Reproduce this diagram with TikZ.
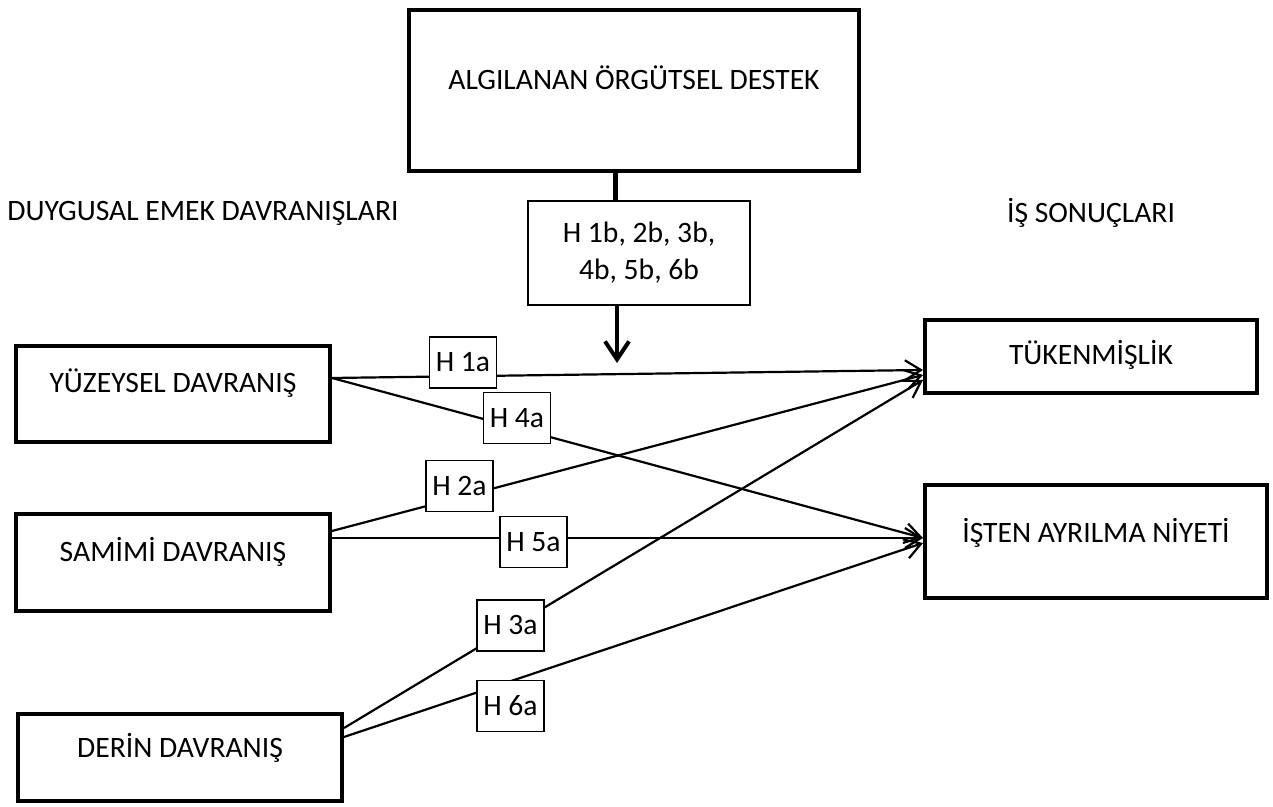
\documentclass[tikz,border=0pt]{standalone}
\usepackage{fontspec}
\setmainfont{Carlito}
\usetikzlibrary{arrows.meta,positioning,calc}
\newcommand\diagfont{\fontsize{14.8}{18.5}\selectfont}
\tikzset{
  bigbox/.style={draw, line width=2pt, align=center, text height=9.4pt},
  hypbox/.style={draw, line width=0.8pt, fill=white, minimum width=33.5pt, minimum height=25.5pt, inner sep=0pt},
  conn/.style={line width=1.1pt, line join=round, -{Straight Barb[length=8pt,width=10pt]}},
}

\begin{document}
\begin{tikzpicture}[x=0.5pt, y=0.5pt, font=\diagfont]
  \useasboundingbox (0,0) rectangle (1273,807);

  % Moderator
  \node[bigbox, minimum width=225pt, minimum height=80.5pt, text depth=10.5pt] (destek) at (634,716.5) {ALGILANAN ÖRGÜTSEL DESTEK};
  \node[draw, line width=1pt, minimum width=111pt, minimum height=52pt, align=center] (modhyp) at (639,554) {H 1b, 2b, 3b,\\4b, 5b, 6b};
  \coordinate (moderate) at (617,444);
  \draw[line width=2.5pt] ($(destek.south)+(-19,0)$) -- ($(modhyp.north)+(-24,0)$);
  \draw[line width=2pt, -{Straight Barb[length=9pt,width=12pt]}] ($(modhyp.south)+(-22,0)$) -- (moderate);

  %--- Headings ---
  \node (duygu) at (203,594) {DUYGUSAL EMEK DAVRANIŞLARI};
  \node (sonuc) at (1091,594) {İŞ SONUÇLARI};

  %--- Emotional labour ---
  \node[bigbox, minimum width=157pt, minimum height=48pt, text depth=11pt] (yuz) at (173,413) {YÜZEYSEL DAVRANIŞ};
  \node[bigbox, minimum width=157pt, minimum height=48.5pt, text depth=10.5pt] (sam) at (173,244.5) {SAMİMİ DAVRANIŞ};
  \node[bigbox, minimum width=162pt, minimum height=43.5pt, text depth=9.5pt] (der) at (180,49.5) {DERİN DAVRANIŞ};

  %--- Outcomes ---
  \node[bigbox, minimum width=166pt, minimum height=36.5pt, text depth=1.5pt] (tuk) at (1091,450.5) {TÜKENMİŞLİK};
  \node[bigbox, minimum width=171pt, minimum height=56.5pt, text depth=8.5pt] (ist) at (1096,265.5) {İŞTEN AYRILMA NİYETİ};

  %--- Paths ---
  \draw[conn] ($(yuz.east)+(0,16)$) -- ($(tuk.west)+(0,-13.5)$);
  \draw[conn] ($(yuz.east)+(0,16)$) -- ($(ist.west)+(0,3.5)$);
  \draw[conn] ($(sam.east)+(0,31.5)$) -- ($(tuk.west)+(0,-18.5)$);
  \draw[conn] ($(sam.east)+(0,24.5)$) -- ($(ist.west)+(0,3.5)$);
  \draw[conn] ($(der.east)+(0,29.5)$) -- ($(tuk.west)+(0,-23.5)$);
  \draw[conn] ($(der.east)+(0,20.5)$) -- ($(ist.west)+(0,-1.5)$);

  %--- Hypotheses ---
  \node[hypbox] (h1a) at (463,444.5) {H 1a};
  \node[hypbox] (h4a) at (517,389) {H 4a};
  \node[hypbox] (h2a) at (459.5,321) {H 2a};
  \node[hypbox] (h5a) at (533.5,265) {H 5a};
  \node[hypbox] (h3a) at (510.5,181.5) {H 3a};
  \node[hypbox] (h6a) at (510.5,101) {H 6a};
\end{tikzpicture}
\end{document}
